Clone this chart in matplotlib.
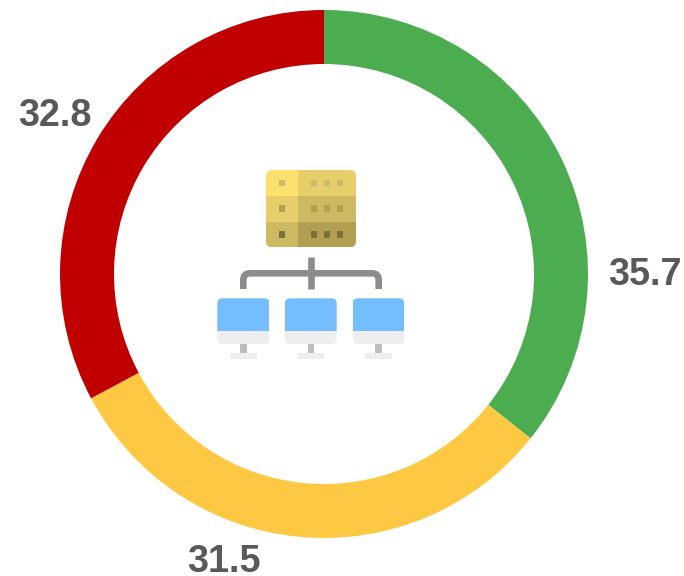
import matplotlib
matplotlib.use("Agg")
import matplotlib.pyplot as plt
from matplotlib.patches import FancyBboxPatch, Rectangle
from matplotlib.path import Path
from matplotlib.patches import PathPatch

values = [35.7, 31.5, 32.8]
labels = ["35.7", "31.5", "32.8"]
colors = ["#4CAD50", "#FFC843", "#C00000"]
label_pos = [(645, 285), (224, 572.5), (54.5, 125.5)]

W, H = 684, 576
fig = plt.figure(figsize=(W / 100, H / 100), dpi=100)

# ring
ax = fig.add_axes([60 / W, (H - 538) / H, 528 / W, 528 / H])
ax.pie(values, colors=colors, startangle=90, counterclock=False, radius=1,
       wedgeprops=dict(width=54 / 264, linewidth=0))
ax.set_xlim(-1, 1)
ax.set_ylim(-1, 1)

# overlay in pixel coordinates
ov = fig.add_axes([0, 0, 1, 1])
ov.set_xlim(0, W)
ov.set_ylim(H, 0)
ov.axis("off")
ov.patch.set_alpha(0)

for txt, (x, y) in zip(labels, label_pos):
    ov.text(x, y, txt, ha="center", va="baseline", fontsize=27.2, fontweight="bold",
            family="Liberation Sans", color="#595959")


def rrect(x0, y0, x1, y1, r, **kw):
    p = FancyBboxPatch((x0 + r, y0 + r), x1 - x0 - 2 * r, y1 - y0 - 2 * r,
                       boxstyle="round,pad=%f,rounding_size=%f" % (r, r), linewidth=0, **kw)
    ov.add_patch(p)
    return p


# server
clip = rrect(266, 170, 356, 247.3, 6, facecolor="none")
rows = [(170, 195.7), (195.7, 221.7), (221.7, 247.3)]
left_cols = ["#FEE06E", "#E6CF6B", "#CCB962"]
right_cols = ["#E6CF6B", "#CCB962", "#B29F52"]
for (y0, y1), cl, cr in zip(rows, left_cols, right_cols):
    for x0, x1, c in [(266, 298, cl), (298, 356, cr)]:
        r = Rectangle((x0, y0), x1 - x0, y1 - y0, facecolor=c, linewidth=0)
        ov.add_patch(r)
        r.set_clip_path(clip)

dot_y = [182.7, 208.3, 234.3]
dot_left = ["#CDB962", "#B29F52", "#7F6F3A"]
dot_right = ["#CDBA66", "#B29F52", "#7F6F3A"]
for y, cl, cr in zip(dot_y, dot_left, dot_right):
    ov.add_patch(Rectangle((279, y - 3.2), 6.4, 6.4, facecolor=cl, linewidth=0))
    for x in [314, 327, 340]:
        ov.add_patch(Rectangle((x - 3.2, y - 3.2), 6.4, 6.4, facecolor=cr, linewidth=0))

# connectors
lw = 6.6 * 72 / 100
grey = "#8C8C8C"
ov.plot([311, 311], [256.7, 289], color=grey, lw=lw, solid_capstyle="butt")
verts = [(243.3, 289), (243.3, 280), (243.3, 273.3), (250, 273.3), (372, 273.3),
         (378.7, 273.3), (378.7, 280), (378.7, 289)]
codes = [Path.MOVETO, Path.LINETO, Path.CURVE3, Path.CURVE3, Path.LINETO,
         Path.CURVE3, Path.CURVE3, Path.LINETO]
ov.add_patch(PathPatch(Path(verts, codes), facecolor="none", edgecolor=grey, lw=lw, capstyle="butt"))

# monitors
for x0, x1 in [(217.3, 269.3), (285, 336.7), (352.7, 404.3)]:
    clip = rrect(x0, 298.3, x1, 344, 5, facecolor="none")
    top = Rectangle((x0, 298.3), x1 - x0, 32.4, facecolor="#74BEFF", linewidth=0)
    bot = Rectangle((x0, 330.7), x1 - x0, 13.3, facecolor="#EEEEEE", linewidth=0)
    for r in (top, bot):
        ov.add_patch(r)
        r.set_clip_path(clip)
    xc = (x0 + x1) / 2
    ov.add_patch(Rectangle((xc - 3.3, 344), 6.6, 9.3, facecolor="#BDBDBD", linewidth=0))
    ov.add_patch(Rectangle((xc - 13.3, 353.3), 26.6, 6, facecolor="#EEEEEE", linewidth=0))

fig.savefig("out.png", dpi=100)
